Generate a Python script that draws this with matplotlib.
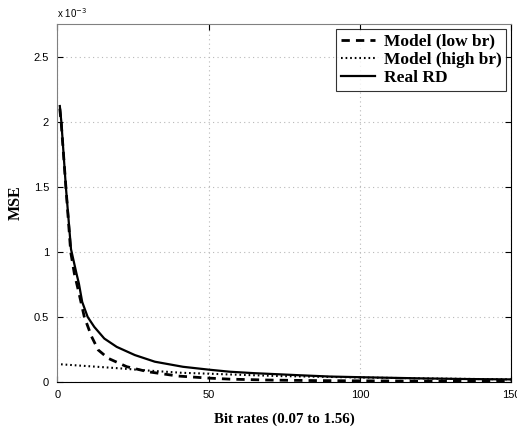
import matplotlib
matplotlib.use("Agg")
import matplotlib.pyplot as plt
from matplotlib.ticker import FuncFormatter

# Real RD curve (MSE vs bit rate index)
x_real = [0.8, 1.3, 2.8, 4.5, 4.7, 6.3, 7.1, 8.2, 10, 12.2, 15.5, 19.6, 25.6,
          32.2, 41.5, 50, 57, 65, 73.5, 80, 90, 100, 106.5, 120, 135, 150]
mse_real = [2.12e-3, 2.0e-3, 1.5e-3, 1.02e-3, 1.0e-3, 0.834e-3, 0.757e-3,
            0.615e-3, 0.5e-3, 0.423e-3, 0.334e-3, 0.27e-3, 0.207e-3, 0.156e-3,
            0.117e-3, 0.095e-3, 0.079e-3, 0.068e-3, 0.059e-3, 0.052e-3,
            0.042e-3, 0.037e-3, 0.034e-3, 0.028e-3, 0.023e-3, 0.02e-3]

# Model (low br)
x_low = [0.8, 1.3, 2.8, 4.4, 5.6, 6.9, 8.9, 11.3, 13.5, 16.8, 22.9, 29.9,
         39.8, 50, 57, 70, 85, 100, 120, 150]
mse_low = [2.1e-3, 1.98e-3, 1.5e-3, 1.0e-3, 0.834e-3, 0.706e-3, 0.5e-3,
           0.349e-3, 0.246e-3, 0.182e-3, 0.118e-3, 0.079e-3, 0.046e-3,
           0.03e-3, 0.022e-3, 0.015e-3, 0.011e-3, 0.009e-3, 0.007e-3,
           0.005e-3]

# Model (high br)
x_high = [1.2, 10, 20, 30, 41, 50, 57, 73, 90, 100, 120, 150]
mse_high = [0.136e-3, 0.122e-3, 0.106e-3, 0.088e-3, 0.071e-3, 0.064e-3,
            0.058e-3, 0.046e-3, 0.039e-3, 0.035e-3, 0.028e-3, 0.02e-3]

xticks = [0, 50, 100, 150]
yticks = [0, 0.5e-3, 1e-3, 1.5e-3, 2e-3, 2.5e-3]

fig = plt.figure(figsize=(5.17, 4.32), dpi=100)
ax = fig.add_axes([0.111, 0.1157, 0.878, 0.8287])

ax.plot(x_low, mse_low, color="black", lw=2.0, ls=(0, (3, 2.2)),
        label="Model (low br)")
ax.plot(x_high, mse_high, color="black", lw=1.5, ls=(0, (0.8, 1.4)),
        label="Model (high br)")
ax.plot(x_real, mse_real, color="black", lw=1.6, ls="-", label="Real RD")

ax.set_xlim(0, 150)
ax.set_ylim(0, 2.75e-3)
ax.set_xticks(xticks)
ax.set_yticks(yticks)
ax.yaxis.set_major_formatter(FuncFormatter(lambda v, p: f"{v / 1e-3:g}"))

ax.grid(True, color="#b8b8b8", ls=(0, (1, 3)), lw=0.8)
ax.tick_params(direction="in", top=True, right=True, length=4,
               labelsize=8, colors="black", pad=6)
for lab in ax.get_xticklabels() + ax.get_yticklabels():
    lab.set_family("Liberation Sans")
for sp in ax.spines.values():
    sp.set_color("#808080")
    sp.set_linewidth(0.8)
ax.spines["right"].set_color("black")
ax.spines["bottom"].set_color("black")

ax.text(0.0, 1.012, r"x 10$^{-3}$", transform=ax.transAxes, fontsize=7,
        family="Liberation Sans", ha="left", va="bottom")

serif = {"family": "Liberation Serif", "weight": "bold"}
ax.set_xlabel("Bit rates (0.07 to 1.56)", fontsize=10.8, labelpad=9, **serif)
ax.set_ylabel("MSE", fontsize=11.5, labelpad=7, **serif)

leg = ax.legend(loc="upper right", prop={"family": "Liberation Serif",
                "weight": "bold", "size": 12.5}, frameon=True, fancybox=False,
                borderpad=0.25, labelspacing=0.12, handlelength=2.0,
                handletextpad=0.5, borderaxespad=0.3)
leg.get_frame().set_edgecolor("black")
leg.get_frame().set_linewidth(0.8)

fig.savefig("out.png", dpi=100)
